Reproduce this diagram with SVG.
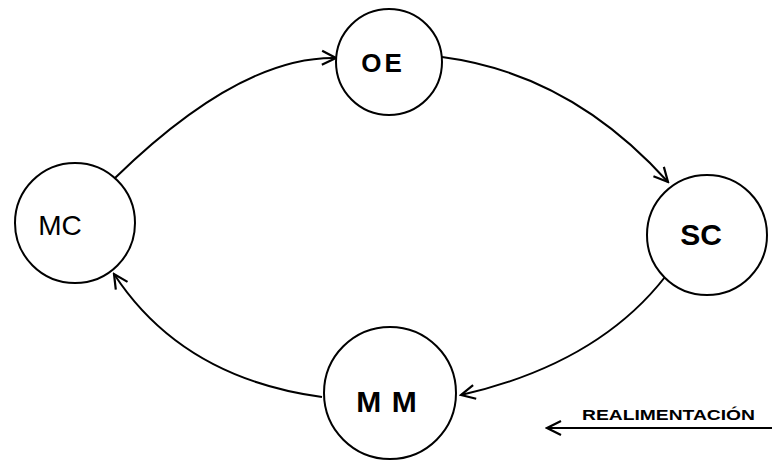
<svg xmlns="http://www.w3.org/2000/svg" width="772" height="462" viewBox="0 0 772 462">
<style>
.node circle{fill:#fff;stroke:#000;stroke-width:2}
.node text{font-family:"Liberation Sans",Arial,sans-serif;fill:#000;text-anchor:middle}
.conn path{fill:none;stroke:#000;stroke-width:2}
.lbl{font-family:"Liberation Sans",Arial,sans-serif;font-weight:bold;font-size:14px;fill:#000}
</style>
<defs>
<marker id="arr" viewBox="0 0 20 20" refX="18" refY="10" markerWidth="20" markerHeight="20" markerUnits="userSpaceOnUse" orient="auto">
<path d="M4,3 L18,10 L4,17" fill="none" stroke="#000" stroke-width="2.2"/>
</marker>
</defs>
<rect width="772" height="462" fill="#fff"/>
<g id="connectors" class="conn">
<path d="M115,178 Q240,56 336,58" marker-end="url(#arr)"/>
<path d="M442,57 Q571,74 668,182" marker-end="url(#arr)"/>
<path d="M665,277 Q597,364 461,395" marker-end="url(#arr)"/>
<path d="M322,397 Q182,378 114,274" marker-end="url(#arr)"/>
</g>
<g id="MC" class="node">
<circle cx="75" cy="223" r="60"/>
<text x="60" y="235" font-size="28">MC</text>
</g>
<g id="OE" class="node">
<circle cx="389" cy="62" r="53"/>
<text x="383" y="72" font-size="26" font-weight="bold" letter-spacing="3">OE</text>
</g>
<g id="SC" class="node">
<circle cx="707" cy="235" r="60"/>
<text x="701" y="245" font-size="30" font-weight="bold">SC</text>
</g>
<g id="MM" class="node">
<circle cx="390" cy="393" r="66"/>
<text x="387" y="412" font-size="30" font-weight="bold" letter-spacing="1">M M</text>
</g>
<g id="legend">
<text class="lbl" x="582" y="420" textLength="173" lengthAdjust="spacingAndGlyphs">REALIMENTACIÓN</text>
<path d="M772,428 L547,428" fill="none" stroke="#000" stroke-width="2" marker-end="url(#arr)"/>
</g>
</svg>
